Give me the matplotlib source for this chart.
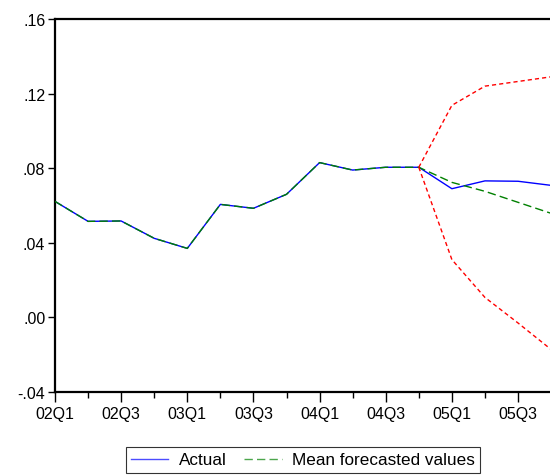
import matplotlib
matplotlib.use("Agg")
import matplotlib.pyplot as plt
import numpy as np

quarters = ["02Q1", "02Q2", "02Q3", "02Q4", "03Q1", "03Q2", "03Q3", "03Q4",
            "04Q1", "04Q2", "04Q3", "04Q4", "05Q1", "05Q2", "05Q3", "05Q4"]
actual = [0.0622, 0.0515, 0.0517, 0.0424, 0.0370, 0.0606, 0.0585, 0.0660,
          0.0830, 0.0790, 0.0805, 0.0805, 0.0690, 0.0732, 0.0730, 0.0708]
mean_fc = [0.0622, 0.0515, 0.0517, 0.0424, 0.0370, 0.0606, 0.0585, 0.0660,
           0.0830, 0.0790, 0.0805, 0.0805, 0.0724, 0.0676, 0.0617, 0.0558]
upper_q = ["04Q4", "05Q1", "05Q2", "05Q3", "05Q4"]
upper = [0.0805, 0.1137, 0.1240, 0.1265, 0.1290]
lower = [0.0805, 0.0310, 0.0107, -0.0030, -0.0172]
yticks = [-0.04, 0.00, 0.04, 0.08, 0.12, 0.16]
ytick_labels = ["-.04", ".00", ".04", ".08", ".12", ".16"]

plt.rcParams['font.family'] = ['Liberation Sans', 'DejaVu Sans']

fig = plt.figure(figsize=(5.5, 4.77), dpi=100)
ax = fig.add_axes([55/550, 1 - 393/477, 1 - 55/550 + 0.002, (393 - 20)/477])

x = np.arange(len(quarters))
xu = [quarters.index(q) for q in upper_q]

ax.plot(x, actual, color='#0000ff', lw=1.0, label='Actual', zorder=2)
ax.plot(x, mean_fc, color='#008000', lw=1.0, dashes=(6, 3), label='Mean forecasted values', zorder=3)
ax.plot(xu, upper, color='#ff0000', lw=1.0, dashes=(3, 2.2), zorder=3)
ax.plot(xu, lower, color='#ff0000', lw=1.0, dashes=(3, 2.2), zorder=3)

ax.set_xlim(0, 15)
ax.set_ylim(-0.04, 0.16)
ax.set_yticks(yticks)
ax.set_yticklabels(ytick_labels)
ax.set_xticks(x[::2])
ax.set_xticklabels(quarters[::2])
ax.set_xticks(x, minor=True)

for s in ['left', 'bottom', 'top']:
    ax.spines[s].set_linewidth(1.6)
ax.spines['right'].set_visible(False)

ax.tick_params(axis='both', which='major', labelsize=11.5, direction='out', width=1, colors='black')
ax.tick_params(axis='y', length=5, pad=2)
ax.tick_params(axis='x', length=7, pad=3)
ax.tick_params(axis='x', which='minor', length=4, width=1)

leg = fig.legend(loc='center', bbox_to_anchor=(303/550, 1 - 461/477), ncol=2,
                 fontsize=12.3, frameon=True, fancybox=False, edgecolor='black',
                 handlelength=2.2, columnspacing=1.05, borderpad=0.3, handletextpad=0.6,
                 borderaxespad=0)
leg.get_frame().set_linewidth(0.8)
for h in leg.get_lines():
    h.set_alpha(0.7)

fig.savefig('out.png', dpi=100)
